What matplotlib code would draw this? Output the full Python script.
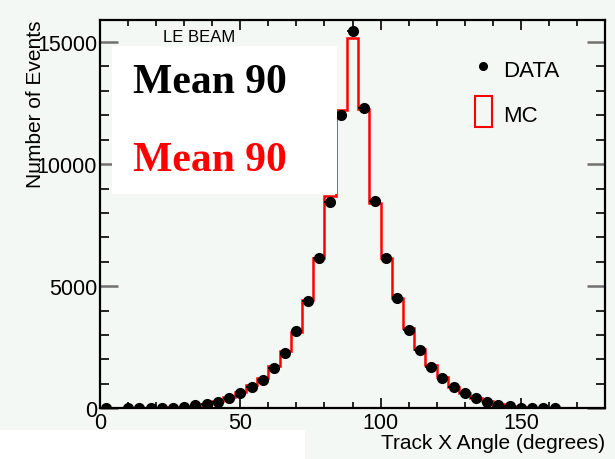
import numpy as np
import matplotlib
matplotlib.use("Agg")
import matplotlib.pyplot as plt
from matplotlib.patches import Rectangle

# bin edges for MC histogram (4 degree bins, 0-180)
bin_edges = np.arange(0, 181, 4)

# MC counts per bin (centres 2, 6, ..., 178)
mc_counts = [20, 20, 20, 20, 20, 25, 35, 50, 90, 160,
             290, 470, 660, 970, 1240, 1750, 2340, 3140, 4450, 6160,
             8710, 12200, 15160, 12240, 8410, 6160, 4520, 3280, 2430, 1790,
             1270, 890, 630, 430, 280, 160, 90, 50, 30, 20,
             15, 10, 10, 10, 10]

# DATA points
data_x = [2, 10, 14, 18, 22, 26, 30, 34, 38, 42, 46, 50, 54, 58, 62, 66, 70, 74, 78, 82,
          86, 90, 94, 98, 102, 106, 110, 114, 118, 122, 126, 130, 134, 138, 142, 146,
          150, 154, 158, 162]
data_y = [10, 10, 15, 20, 20, 30, 35, 130, 170, 270, 435, 630, 860, 1170, 1665, 2255,
          3155, 4400, 6150, 8440, 12020, 15460, 12300, 8480, 6150, 4520, 3210, 2390,
          1705, 1255, 860, 630, 420, 270, 150, 80, 25, 10, 10, 10]

bg = '#f4f8f5'
plt.rcParams['font.family'] = ['Liberation Sans', 'DejaVu Sans']

fig = plt.figure(figsize=(6.15, 4.6), dpi=100, facecolor=bg)
ax = fig.add_axes([100/615, 1 - 409.3/460, 505/615, 388.3/460])
ax.set_facecolor(bg)

ax.stairs(mc_counts, bin_edges, color='red', linewidth=1.8, zorder=2)
ax.errorbar(data_x, data_y, xerr=2, fmt='o', color='black', ms=7,
            elinewidth=1.2, capsize=0, zorder=3)

ax.set_xlim(0, 180)
ax.set_ylim(0, 15900)
ax.set_xticks([0, 50, 100, 150])
ax.set_xticks(np.arange(0, 181, 10), minor=True)
ax.set_yticks([0, 5000, 10000, 15000])
ax.set_yticks(np.arange(0, 15901, 1000), minor=True)

for s in ax.spines.values():
    s.set_linewidth(1.6)

ax.tick_params(axis='both', which='both', direction='in', top=True, right=True,
               labelsize=15.5)
ax.tick_params(axis='y', which='major', length=13, width=1.8, color='#707070', pad=2)
ax.tick_params(axis='y', which='minor', length=6.5, width=1.2)
ax.tick_params(axis='x', which='major', length=7.5, width=1.2, pad=3)
ax.tick_params(axis='x', which='minor', length=4, width=1.2)

ax.set_xlabel('Track X Angle (degrees)', fontsize=15, loc='right')
ax.xaxis.set_label_coords(1.0, -0.064)
ax.set_ylabel('Number of Events', fontsize=15, loc='top')
ax.yaxis.set_label_coords(-0.108, 1.0)

# legend drawn by hand
ax.plot([0.758], [0.8815], 'o', color='black', ms=5.5, transform=ax.transAxes, clip_on=False)
ax.text(0.798, 0.871, 'DATA', fontsize=16, va='center', ha='left', transform=ax.transAxes)
ax.add_patch(Rectangle((0.7426, 0.7244), 0.0334, 0.0799, transform=ax.transAxes,
                       facecolor='none', edgecolor='red', linewidth=1.5, clip_on=False))
ax.text(0.798, 0.7528, 'MC', fontsize=16, va='center', ha='left', transform=ax.transAxes)

# white boxes on top of the plot
fig.patches.append(Rectangle((112/615, 1 - 195/460), 225/615, 148/460,
                             transform=fig.transFigure, facecolor='white',
                             edgecolor='none', zorder=5))
fig.patches.append(Rectangle((0, 0), 305/615, 29/460, transform=fig.transFigure,
                             facecolor='white', edgecolor='none', zorder=5))

fig.text(163/615, 1 - 38/460, 'LE BEAM', fontsize=12, va='center', ha='left', zorder=6)
fig.text(133/615, 1 - 83/460, 'Mean 90', fontsize=30, fontweight='bold',
         family='Liberation Serif', color='black', va='center', ha='left', zorder=6)
fig.text(133/615, 1 - 161/460, 'Mean 90', fontsize=30, fontweight='bold',
         family='Liberation Serif', color='red', va='center', ha='left', zorder=6)

fig.savefig('out.png', dpi=100, facecolor=bg)
